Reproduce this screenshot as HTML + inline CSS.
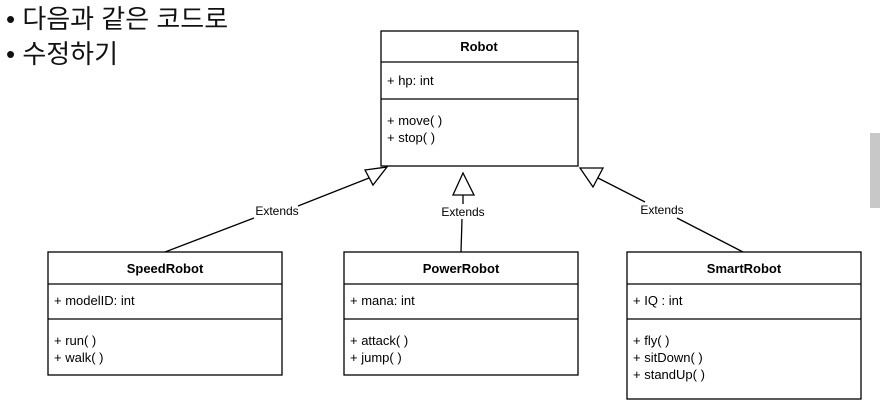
<!DOCTYPE html>
<html><head><meta charset="utf-8"><style>
body{margin:0;width:880px;height:416px;background:#fff;overflow:hidden;position:relative;font-family:"Liberation Sans",Arial,sans-serif;}
.t{position:absolute;left:6px;font-family:"Liberation Sans","Noto Sans CJK KR",sans-serif;font-size:26px;line-height:30px;color:#111;}
svg{position:absolute;left:0;top:0}
</style></head><body>
<div class="t" style="top:4px">• 다음과 같은 코드로</div>
<div class="t" style="top:39px">• 수정하기</div>
<svg width="880" height="416" font-family="Liberation Sans, Arial, sans-serif" font-size="13" fill="#000">
<rect x="870" y="133" width="10" height="75" fill="#c8c8c8"/>
<g stroke="#000" stroke-width="1.3" fill="none">
<rect x="381" y="31" width="197" height="135"/><line x1="381" y1="62" x2="578" y2="62"/><line x1="381" y1="99" x2="578" y2="99"/>
<rect x="48" y="252" width="234" height="123"/><line x1="48" y1="284" x2="282" y2="284"/><line x1="48" y1="319" x2="282" y2="319"/>
<rect x="344" y="252" width="234" height="123"/><line x1="344" y1="284" x2="578" y2="284"/><line x1="344" y1="319" x2="578" y2="319"/>
<rect x="627" y="252" width="234" height="147"/><line x1="627" y1="284" x2="861" y2="284"/><line x1="627" y1="319" x2="861" y2="319"/>
<polygon points="387,167 365,170 373,185" fill="#fff"/>
<line x1="369" y1="178" x2="298" y2="206"/><line x1="254" y1="218" x2="165" y2="252"/>
<polygon points="463,173 453,195 474,195" fill="#fff"/>
<line x1="463" y1="195" x2="463" y2="204"/><line x1="462" y1="219" x2="461" y2="252"/>
<polygon points="580,168 603,168 593,187" fill="#fff"/>
<line x1="598" y1="178" x2="645" y2="202"/><line x1="677" y1="218" x2="743" y2="252"/>
</g>
<g font-weight="bold" text-anchor="middle">
<text x="479" y="51">Robot</text><text x="165" y="273">SpeedRobot</text><text x="461" y="273">PowerRobot</text><text x="744" y="273">SmartRobot</text>
</g>
<g font-size="12" text-anchor="middle">
<text x="277" y="215">Extends</text><text x="463" y="216">Extends</text><text x="662" y="214">Extends</text>
</g>
<text x="387" y="85">+ hp: int</text>
<text x="387" y="125">+ move( )</text><text x="387" y="142">+ stop( )</text>
<text x="54" y="305">+ modelID: int</text>
<text x="54" y="345">+ run( )</text><text x="54" y="362">+ walk( )</text>
<text x="350" y="305">+ mana: int</text>
<text x="350" y="345">+ attack( )</text><text x="350" y="362">+ jump( )</text>
<text x="633" y="305">+ IQ : int</text>
<text x="633" y="345">+ fly( )</text><text x="633" y="362">+ sitDown( )</text><text x="633" y="379">+ standUp( )</text>
</svg>
</body></html>
